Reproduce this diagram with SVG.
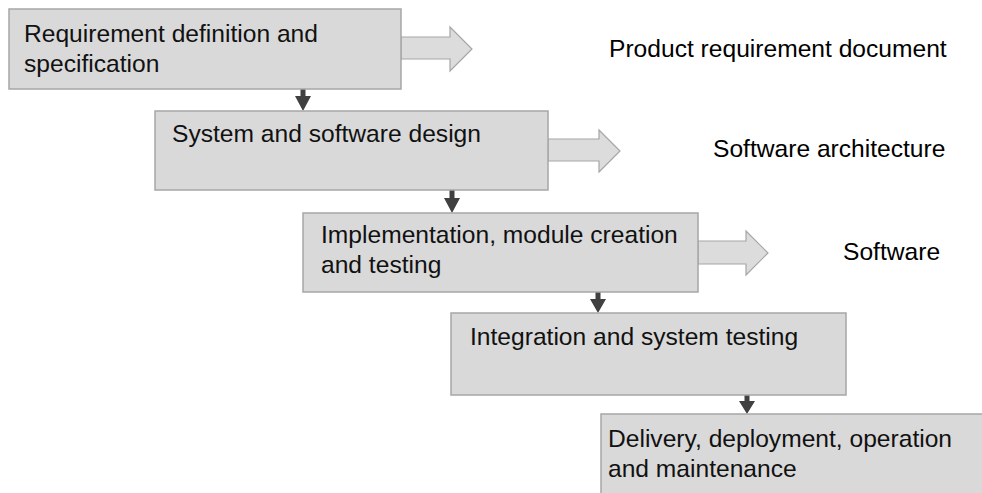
<svg xmlns="http://www.w3.org/2000/svg" width="982" height="493" viewBox="0 0 982 493">
<style>
.box{fill:#d9d9d9;stroke:#a6a6a6;stroke-width:1.5}
.big{fill:#dcdcdc;stroke:#a6a6a6;stroke-width:1.2}
.t{font-family:"Liberation Sans",Arial,sans-serif;font-size:24.6px;fill:#111}
.lbl{font-family:"Liberation Sans",Arial,sans-serif;font-size:24.6px;fill:#000}
.dn{fill:#404040}
</style>
<rect width="982" height="493" fill="#fff"/>
<g id="connectors">
  <path class="big" d="M401,37 H450 V27 L472,49 L450,71 V59 H401 Z"/>
  <path class="big" d="M548,139 H599 V130 L620,151 L599,172 V161 H548 Z"/>
  <path class="big" d="M698,241 H746 V231 L768,253 L746,275 V264 H698 Z"/>
  <path class="dn" d="M300.5,89 H305.5 V96 H311 L303,111 L295,96 H300.5 Z"/>
  <path class="dn" d="M449.5,190 H454.5 V198 H460 L452,213 L444,198 H449.5 Z"/>
  <path class="dn" d="M595.5,292 H600.5 V299 H606 L598,313 L590,299 H595.5 Z"/>
  <path class="dn" d="M744.5,395 H749.5 V401 H755 L747,414 L739,401 H744.5 Z"/>
</g>
<g id="n1">
  <rect class="box" x="9" y="9" width="392" height="80"/>
  <text class="t" x="24" y="42">Requirement definition and</text>
  <text class="t" x="24" y="72">specification</text>
</g>
<g id="n2">
  <rect class="box" x="155" y="111" width="393" height="79"/>
  <text class="t" x="172" y="142">System and software design</text>
</g>
<g id="n3">
  <rect class="box" x="303" y="213" width="395" height="79"/>
  <text class="t" x="321" y="243">Implementation, module creation</text>
  <text class="t" x="321" y="273">and testing</text>
</g>
<g id="n4">
  <rect class="box" x="451" y="313" width="395" height="82"/>
  <text class="t" x="470" y="345">Integration and system testing</text>
</g>
<g id="n5">
  <rect class="box" x="601" y="414" width="400" height="100"/>
  <text class="t" x="608" y="447">Delivery, deployment, operation</text>
  <text class="t" x="608" y="477">and maintenance</text>
</g>
<g id="labels">
  <text class="lbl" x="609" y="57">Product requirement document</text>
  <text class="lbl" x="713" y="157">Software architecture</text>
  <text class="lbl" x="843" y="260">Software</text>
</g>
</svg>
